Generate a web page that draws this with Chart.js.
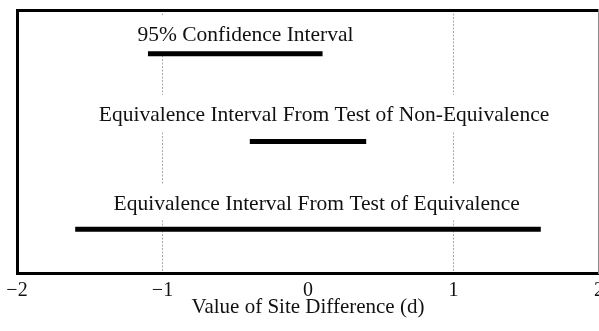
<!DOCTYPE html>
<html>
<head>
<meta charset="utf-8">
<script src="https://cdn.jsdelivr.net/npm/chart.js@4.4.1/dist/chart.umd.min.js"></script>
<style>
  html, body { margin: 0; padding: 0; background: #fff; overflow: hidden; }
  canvas { display: block; }
</style>
</head>
<body>
<canvas id="siteChart" width="599" height="331"></canvas>
<script>
// intervals, top to bottom
const intervalNames = [
  '95% Confidence Interval',
  'Equivalence Interval From Test of Non-Equivalence',
  'Equivalence Interval From Test of Equivalence'
];
const intervalLow = [-1.1, -0.4, -1.6];
const intervalHigh = [0.1, 0.4, 1.6];
const intervalRow = [5, 3, 1];

// where each caption sits (x = centre, y = baseline, in axis units)
const labelX = [-0.43, 0.11, 0.06];
const labelY = [5.29, 3.47, 1.43];

// dotted reference lines for the equivalence limits
const limitLines = [-1, 1];

const serif = '"Liberation Serif", "Times New Roman", serif';

const datasets = intervalNames.map((name, i) => ({
  label: name,
  data: [
    { x: intervalLow[i], y: intervalRow[i] },
    { x: intervalHigh[i], y: intervalRow[i] }
  ],
  borderColor: '#000',
  borderWidth: 5,
  borderCapStyle: 'butt',
  pointRadius: 0,
  tension: 0
}));

// captions get a white box so the dotted lines stop around them
const intervalLabels = {
  id: 'intervalLabels',
  beforeDatasetsDraw(chart) {
    const { ctx, scales: { x, y } } = chart;
    ctx.save();
    ctx.font = '21.5px ' + serif;
    ctx.textAlign = 'center';
    ctx.textBaseline = 'alphabetic';
    intervalNames.forEach((name, i) => {
      const cx = x.getPixelForValue(labelX[i]);
      const by = y.getPixelForValue(labelY[i]);
      const w = ctx.measureText(name).width;
      ctx.fillStyle = '#fff';
      ctx.fillRect(cx - w / 2 - 4, by - 26, w + 8, 36);
      ctx.fillStyle = '#111';
      ctx.fillText(name, cx, by);
    });
    ctx.restore();
  }
};

const hiddenTicks = { display: false };
const noGrid = { display: false, drawTicks: false };

new Chart(document.getElementById('siteChart'), {
  type: 'line',
  data: { datasets },
  options: {
    responsive: false,
    animation: false,
    events: [],
    layout: {
      autoPadding: false,
      padding: { top: 10, left: 17, right: 0, bottom: 0 }
    },
    plugins: {
      legend: { display: false },
      tooltip: { enabled: false }
    },
    scales: {
      x: {
        type: 'linear',
        position: 'bottom',
        min: -2,
        max: 2,
        // the "2" label is allowed to run off the right edge
        afterFit(scale) {
          scale.height = 58;
          scale.paddingLeft = 0;
          scale.paddingRight = 0;
        },
        ticks: {
          stepSize: 1,
          padding: 8,
          color: '#111',
          font: { family: serif, size: 20, lineHeight: 1 },
          callback: v => String(v).replace('-', '\u2212')
        },
        grid: {
          drawTicks: false,
          lineWidth: 1,
          color: c => (c.tick && limitLines.includes(c.tick.value)) ? '#a8a8a8' : 'rgba(0,0,0,0)'
        },
        border: { color: '#000', width: 3, dash: [2, 1.5] },
        title: {
          display: true,
          text: 'Value of Site Difference (d)',
          color: '#111',
          font: { family: serif, size: 21, lineHeight: 1 },
          padding: { top: 0, bottom: 13 }
        }
      },
      xTop: {
        type: 'linear',
        position: 'top',
        display: true,
        min: -2,
        max: 2,
        ticks: hiddenTicks,
        grid: noGrid,
        border: { color: '#000', width: 3 }
      },
      y: {
        type: 'linear',
        position: 'left',
        display: true,
        min: 0,
        max: 6,
        ticks: hiddenTicks,
        grid: noGrid,
        border: { color: '#000', width: 3 }
      },
      yRight: {
        type: 'linear',
        position: 'right',
        display: true,
        min: 0,
        max: 6,
        afterFit(scale) { scale.width = 0; },
        ticks: hiddenTicks,
        grid: noGrid,
        border: { color: '#8a8a8a', width: 1.5 }
      }
    }
  },
  plugins: [intervalLabels]
});
</script>
</body>
</html>
